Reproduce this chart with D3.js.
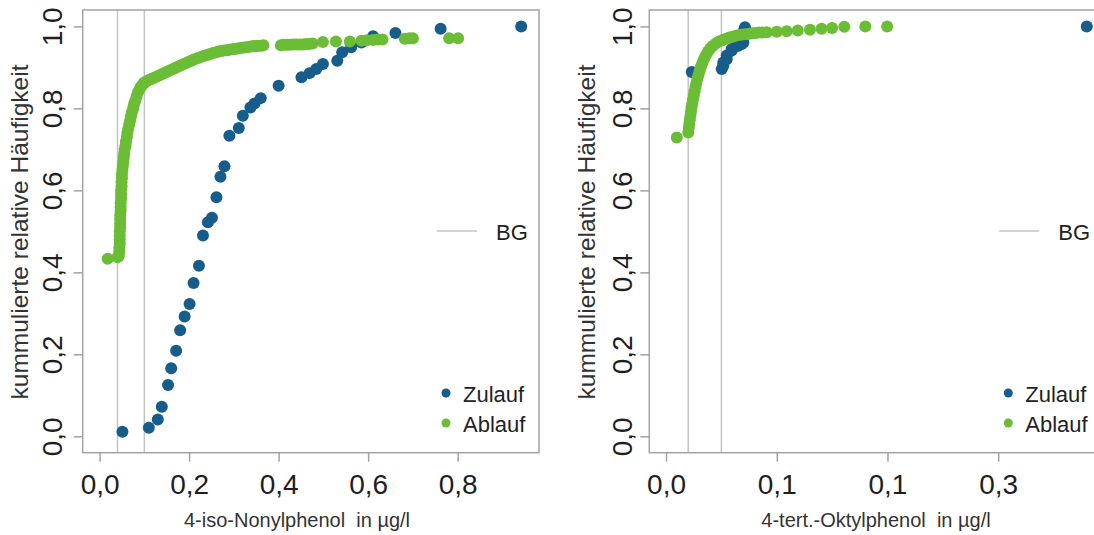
<!DOCTYPE html>
<html>
<head>
    <title>Kumulierte Häufigkeit Alkylphenole</title>
    <script src="https://d3js.org/d3.v7.min.js"></script>
    <style>
        body { margin:0; background:white; }
        svg { font-family:"Liberation Sans", Arial, sans-serif; }
        .box { fill:none; stroke:#a3a3a3; stroke-width:1.5; }
        .bg { stroke:#c4c4c4; stroke-width:1.5; }
        .tick line { stroke:#a3a3a3; stroke-width:1.5; }
        .tick text { font-size:28px; fill:#1e1e1e; }
        .title { font-size:20px; fill:#333; text-anchor:middle; dominant-baseline:central; white-space:pre; }
        .legend { font-size:22px; fill:#222; dominant-baseline:central; }
    </style>
</head>
<body>
<script>
    // y axis (both panels)
    var yTicks = [0, 0.2, 0.4, 0.6, 0.8, 1.0];
    var yTickLabels = ["0,0", "0,2", "0,4", "0,6", "0,8", "1,0"];
    var yTitle = "kummulierte relative Häufigkeit";

    // left panel: 4-iso-Nonylphenol
    var nonylXTicks = [0, 0.2, 0.4, 0.6, 0.8];
    var nonylXLabels = ["0,0", "0,2", "0,4", "0,6", "0,8"];
    var nonylXlim = [0, 0.944];
    var nonylBG = [0.04, 0.1];
    var nonylZulauf = [
        [0.051,0.011],[0.110,0.021],[0.130,0.041],[0.139,0.072],[0.153,0.125],[0.160,0.166],
        [0.171,0.209],[0.180,0.259],[0.190,0.292],[0.201,0.323],[0.210,0.374],[0.222,0.416],
        [0.231,0.490],[0.242,0.522],[0.251,0.533],[0.261,0.583],[0.270,0.633],[0.279,0.659],
        [0.290,0.733],[0.311,0.752],[0.320,0.782],[0.337,0.802],[0.346,0.812],[0.360,0.825],
        [0.400,0.855],[0.451,0.876],[0.469,0.886],[0.484,0.896],[0.499,0.908],[0.531,0.916],
        [0.542,0.937],[0.562,0.949],[0.585,0.961],[0.611,0.976],[0.661,0.984],[0.762,0.994],
        [0.942,1.000]
    ];
    var nonylAblauf = [
        [0.018,0.433],[0.040,0.437],[0.043,0.440],[0.044,0.450],[0.044,0.460],[0.045,0.470],
        [0.045,0.480],[0.045,0.490],[0.045,0.500],[0.046,0.510],[0.046,0.520],[0.046,0.530],
        [0.046,0.540],[0.047,0.550],[0.047,0.560],[0.047,0.570],[0.048,0.580],[0.048,0.590],
        [0.048,0.600],[0.049,0.610],[0.049,0.620],[0.050,0.630],[0.050,0.640],[0.051,0.650],
        [0.052,0.660],[0.053,0.670],[0.054,0.680],[0.055,0.690],[0.056,0.700],[0.058,0.710],
        [0.059,0.720],[0.061,0.730],[0.062,0.740],[0.064,0.750],[0.066,0.760],[0.068,0.770],
        [0.070,0.780],[0.072,0.790],[0.075,0.800],[0.077,0.810],[0.080,0.820],[0.083,0.830],
        [0.086,0.840],[0.090,0.848],[0.093,0.854],[0.097,0.859],[0.100,0.863],[0.105,0.866],
        [0.110,0.869],[0.116,0.872],[0.122,0.875],[0.128,0.878],[0.134,0.881],[0.140,0.884],
        [0.146,0.887],[0.152,0.890],[0.158,0.893],[0.164,0.896],[0.170,0.899],[0.176,0.902],
        [0.182,0.905],[0.188,0.908],[0.194,0.911],[0.200,0.914],[0.206,0.917],[0.212,0.920],
        [0.218,0.922],[0.224,0.924],[0.230,0.927],[0.236,0.929],[0.242,0.931],[0.248,0.933],
        [0.254,0.935],[0.260,0.937],[0.266,0.939],[0.272,0.940],[0.278,0.941],[0.284,0.942],
        [0.290,0.943],[0.296,0.944],[0.302,0.945],[0.308,0.946],[0.314,0.947],[0.320,0.948],
        [0.326,0.949],[0.332,0.950],[0.338,0.951],[0.344,0.952],[0.350,0.952],[0.356,0.953],
        [0.362,0.953],[0.366,0.954],[0.405,0.954],[0.412,0.955],[0.419,0.955],[0.426,0.955],
        [0.433,0.956],[0.440,0.956],[0.447,0.956],[0.454,0.956],[0.461,0.957],[0.468,0.957],
        [0.476,0.958],[0.499,0.962],[0.528,0.963],[0.559,0.963],[0.585,0.965],[0.597,0.966],
        [0.611,0.967],[0.622,0.968],[0.632,0.968],[0.682,0.970],[0.692,0.971],[0.700,0.971],
        [0.781,0.971],[0.801,0.971]
    ];

    // right panel: 4-tert.-Oktylphenol
    var oktylXTicks = [0, 0.1, 0.2, 0.3];
    var oktylXLabels = ["0,0", "0,1", "0,1", "0,3"];
    var oktylXlim = [0, 0.378];
    var oktylBG = [0.02, 0.05];
    var oktylZulauf = [
        [0.0232,0.889],[0.0503,0.896],[0.0517,0.904],[0.0517,0.912],[0.0548,0.920],[0.0548,0.929],
        [0.0593,0.941],[0.0593,0.945],[0.0638,0.953],[0.0653,0.953],[0.0683,0.957],[0.0698,0.961],
        [0.0704,0.990],[0.0713,0.998],[0.380,1.000]
    ];
    var oktylAblauf = [
        [0.0097,0.729],[0.0201,0.741],[0.0205,0.752],[0.0210,0.762],[0.0215,0.772],[0.0220,0.782],
        [0.0225,0.792],[0.0230,0.802],[0.0237,0.812],[0.0244,0.822],[0.0251,0.832],[0.0258,0.842],
        [0.0266,0.852],[0.0274,0.862],[0.0283,0.872],[0.0293,0.882],[0.0304,0.892],[0.0316,0.902],
        [0.0330,0.912],[0.0345,0.922],[0.0362,0.931],[0.0380,0.939],[0.0400,0.946],[0.0420,0.952],
        [0.0450,0.958],[0.0480,0.963],[0.0510,0.967],[0.0540,0.970],[0.0570,0.973],[0.0600,0.975],
        [0.0630,0.977],[0.0660,0.979],[0.0690,0.980],[0.0720,0.981],[0.0750,0.982],[0.0780,0.983],
        [0.0810,0.984],[0.0840,0.985],[0.0870,0.985],[0.0910,0.986],[0.1000,0.987],[0.1090,0.988],
        [0.1190,0.990],[0.1300,0.992],[0.1405,0.994],[0.1500,0.996],[0.1610,0.999],[0.1800,1.000],
        [0.1997,1.000]
    ];

    var blue = "#175d8b", green = "#6bbd36";

    var svg = d3.select("body").append("svg")
                .attr("width", 1094).attr("height", 535);

    var y = d3.scaleLinear().domain([-0.04, 1.04]).range([452.7, 10]);

    var panels = [
        {left:82.7, right:539, xlim:nonylXlim, ticks:nonylXTicks, labels:nonylXLabels, bg:nonylBG,
         zu:nonylZulauf, ab:nonylAblauf, title:"4-iso-Nonylphenol  in µg/l", titleX:297, ylabX:19, yTickOff:31},
        {left:649.3, right:1101.3, xlim:oktylXlim, ticks:oktylXTicks, labels:oktylXLabels, bg:oktylBG,
         zu:oktylZulauf, ab:oktylAblauf, title:"4-tert.-Oktylphenol  in µg/l", titleX:876, ylabX:586, yTickOff:27}
    ];

    panels.forEach(function(p){
        var pad = (p.xlim[1] - p.xlim[0]) * 0.04;
        var x = d3.scaleLinear().domain([p.xlim[0] - pad, p.xlim[1] + pad]).range([p.left, p.right]);
        var g = svg.append("g");

        // BG lines
        g.selectAll("line.bg").data(p.bg).enter().append("line")
            .attr("class", "bg")
            .attr("x1", function(d){return x(d);}).attr("x2", function(d){return x(d);})
            .attr("y1", y.range()[1]).attr("y2", y.range()[0]);

        // points
        g.append("g").selectAll("circle").data(p.zu).enter().append("circle")
            .attr("cx", function(d){return x(d[0]);})
            .attr("cy", function(d){return y(d[1]);})
            .attr("r", 6).attr("fill", blue);
        g.append("g").selectAll("circle").data(p.ab).enter().append("circle")
            .attr("cx", function(d){return x(d[0]);})
            .attr("cy", function(d){return y(d[1]);})
            .attr("r", 6).attr("fill", green);

        // box
        g.append("rect").attr("class", "box")
            .attr("x", p.left).attr("y", y.range()[1])
            .attr("width", p.right - p.left).attr("height", y.range()[0] - y.range()[1]);

        // x axis
        var xa = g.append("g").attr("transform", "translate(0," + y.range()[0] + ")")
            .call(d3.axisBottom(x).tickValues(p.ticks).tickSize(9)
                .tickFormat(function(d, i){return p.labels[i];}));
        xa.select(".domain").remove();
        xa.selectAll("text").attr("y", 32).attr("dy", "0.35em");

        // y axis
        var ya = g.append("g").attr("transform", "translate(" + p.left + ",0)")
            .call(d3.axisLeft(y).tickValues(yTicks).tickSize(9)
                .tickFormat(function(d, i){return yTickLabels[i];}));
        ya.select(".domain").remove();
        ya.selectAll("text")
            .attr("transform", "rotate(-90)")
            .attr("x", 0).attr("y", -p.yTickOff).attr("dy", "0.35em")
            .attr("text-anchor", "middle");

        // titles
        g.append("text").attr("class", "title")
            .attr("x", p.titleX).attr("y", 520).text(p.title);
        g.append("text").attr("class", "title")
            .attr("transform", "translate(" + p.ylabX + "," + 232 + ") rotate(-90)")
            .style("font-size", "24.5px")
            .text(yTitle);

        // legend
        g.append("line").attr("class", "bg")
            .attr("x1", p.right - 102).attr("x2", p.right - 62)
            .attr("y1", 231).attr("y2", 231);
        g.append("text").attr("class", "legend")
            .attr("x", p.right - 43).attr("y", 232).text("BG");
        var leg = [["Zulauf", blue, 393], ["Ablauf", green, 423]];
        leg.forEach(function(l){
            g.append("circle").attr("cx", p.right - 93).attr("cy", l[2]).attr("r", 4.5).attr("fill", l[1]);
            g.append("text").attr("class", "legend")
                .attr("x", p.right - 76).attr("y", l[2] + 1).text(l[0]);
        });
    });
</script>
</body>
</html>
